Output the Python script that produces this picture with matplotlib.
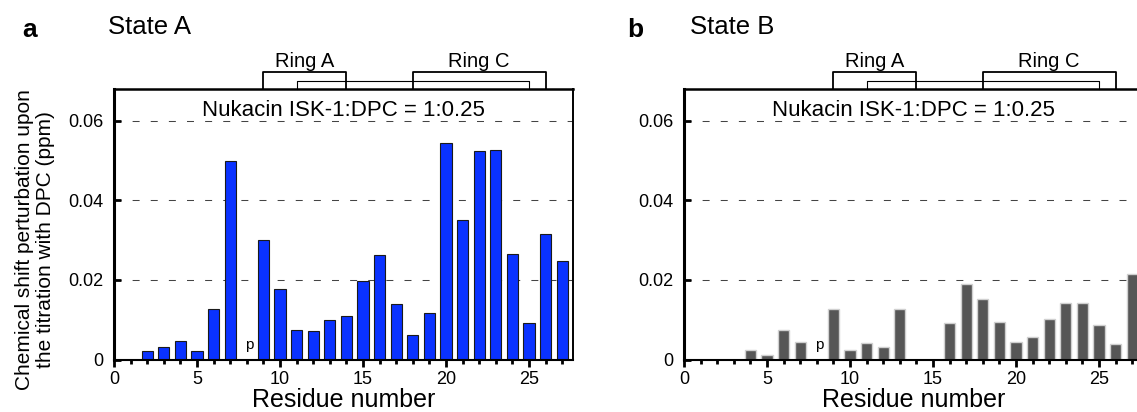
import matplotlib
matplotlib.use("Agg")
import matplotlib.pyplot as plt
from matplotlib.ticker import MultipleLocator

plt.rcParams['font.family'] = ['Liberation Sans', 'DejaVu Sans']

# residue numbers and chemical shift perturbations (ppm)
residues = list(range(1, 28))
state_a = [0, 0.0022, 0.0031, 0.0047, 0.0022, 0.0127, 0.0498, 0, 0.0300, 0.0177,
           0.0074, 0.0072, 0.0099, 0.0109, 0.0197, 0.0262, 0.0140, 0.0062, 0.0116,
           0.0544, 0.0350, 0.0524, 0.0527, 0.0265, 0.0092, 0.0316, 0.0247]
state_b = [0, 0, 0, 0.0023, 0.0012, 0.0073, 0.0044, 0, 0.0127, 0.0023,
           0.0041, 0.0031, 0.0128, 0, 0, 0.0092, 0.0191, 0.0153, 0.0094,
           0.0044, 0.0056, 0.0103, 0.0143, 0.0143, 0.0086, 0.0038, 0.0216]
proline = 8
rings = [("Ring A", 9, 14), ("Ring C", 18, 26)]
inner_ring = (11, 25)
titration = "Nukacin ISK-1:DPC = 1:0.25"

W, H = 1137, 412
fig = plt.figure(figsize=(W / 100, H / 100), dpi=100)

ax_w = 459 / W
ax_h = 270.5 / H
ax_b = (H - 359.5) / H
ax1 = fig.add_axes([114 / W, ax_b, ax_w, ax_h])
ax2 = fig.add_axes([684 / W, ax_b, ax_w, ax_h])


def draw_panel(ax, values, face, edge, elw):
    ax.set_xlim(0, 27.65)
    ax.set_ylim(0, 0.068)
    for yv in [0.02, 0.04, 0.06]:
        ax.axhline(yv, color='#444444', lw=0.75, dashes=(6.7, 10.7), zorder=1)
    ax.bar(residues, values, width=0.68, color=face, edgecolor=edge,
           linewidth=elw, zorder=2)
    ax.text(proline + 0.15, 0.0036, 'p', fontsize=11, ha='center', va='center')

    ax.spines['left'].set_linewidth(2.2)
    ax.spines['top'].set_linewidth(1.8)
    ax.spines['right'].set_linewidth(1.4)
    ax.spines['bottom'].set_linewidth(1.5)

    ax.xaxis.set_major_locator(MultipleLocator(5))
    ax.xaxis.set_minor_locator(MultipleLocator(1))
    ax.yaxis.set_major_locator(MultipleLocator(0.02))
    ax.set_yticks([0, 0.02, 0.04, 0.06])
    ax.set_yticklabels(['0', '0.02', '0.04', '0.06'])
    ax.tick_params(axis='x', which='major', direction='out', length=5, width=2,
                   pad=3, labelsize=13)
    ax.tick_params(axis='x', which='minor', direction='out', length=3, width=2)
    ax.tick_params(axis='y', which='major', direction='in', length=5, width=2,
                   pad=7.5, labelsize=13)
    ax.tick_params(axis='y', which='minor', left=False)

    ax.text(0.5, -0.1756, 'Residue number', transform=ax.transAxes,
            fontsize=18, ha='center', va='baseline')
    ax.text(0.5, 0.92, titration, transform=ax.transAxes,
            fontsize=16, ha='center', va='center')

    # ring brackets above the plot
    tr = ax.get_xaxis_transform()
    x0, x1 = inner_ring
    ax.plot([x0, x0, x1, x1], [1.0, 1.03, 1.03, 1.0], color='black', lw=0.8,
            transform=tr, clip_on=False)
    for name, r0, r1 in rings:
        ax.plot([r0, r0, r1, r1], [1.0, 1.063, 1.063, 1.0], color='black',
                lw=1.3, transform=tr, clip_on=False)
        ax.text((r0 + r1) / 2, 1.081, name, transform=tr, fontsize=14.5,
                ha='center', va='baseline')


draw_panel(ax1, state_a, '#0a32ff', '#1a1a1a', 0.8)
draw_panel(ax2, state_b, '#565656', '#d0d0d0', 1.0)

fig.text(35 / W, 0.4175,
         'Chemical shift perturbation upon\nthe titration with DPC (ppm)',
         rotation=90, fontsize=15, ha='center', va='center', linespacing=1.15)

fig.text(22 / W, (H - 37) / H, 'a', fontsize=19, fontweight='bold', va='baseline')
fig.text(108 / W, (H - 34) / H, 'State A', fontsize=18.5, va='baseline')
fig.text(627 / W, (H - 37) / H, 'b', fontsize=19, fontweight='bold', va='baseline')
fig.text(690 / W, (H - 34) / H, 'State B', fontsize=18.5, va='baseline')

fig.savefig('out.png', dpi=100)
